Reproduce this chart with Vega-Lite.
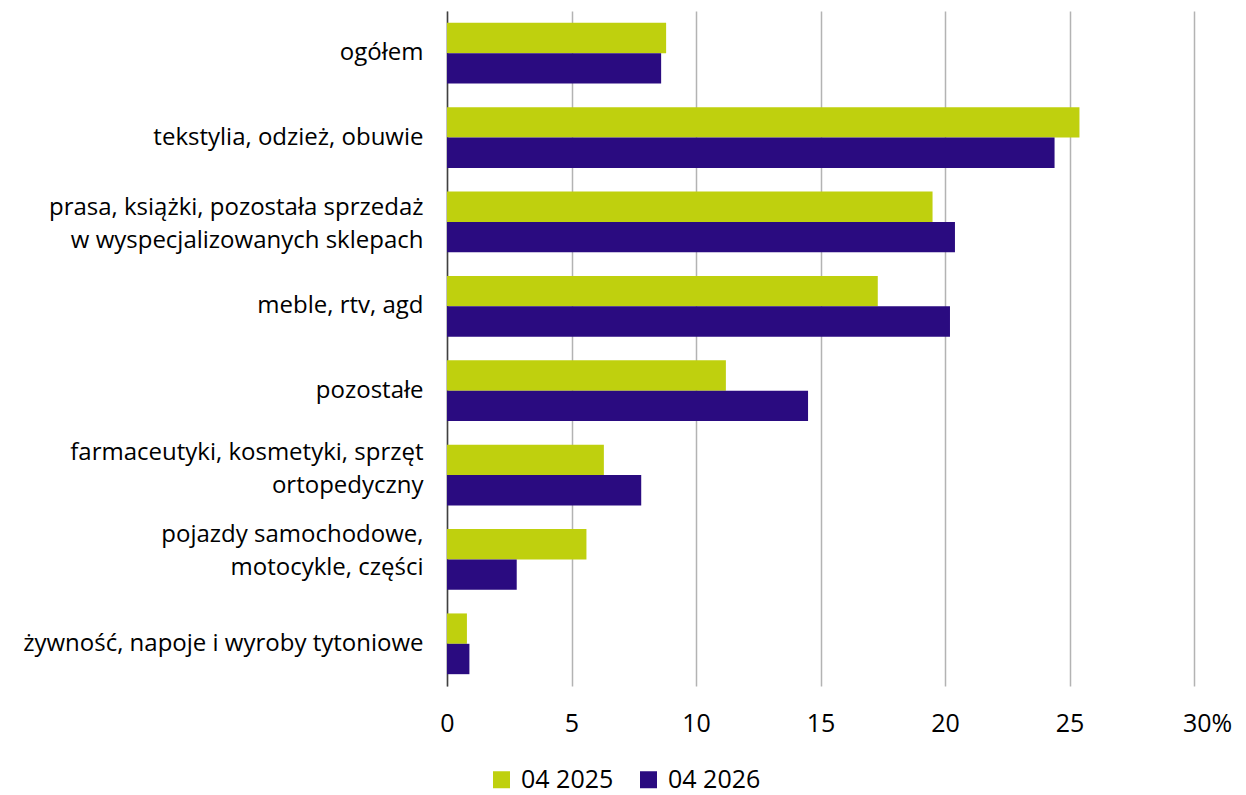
{
  "$schema": "https://vega.github.io/schema/vega-lite/v6.json",
  "width": 747,
  "height": 675,
  "autosize": {"type": "none"},
  "padding": {"left": 447, "top": 11, "right": 52, "bottom": 109},
  "background": "white",
  "data": {
    "values": [
      {"category": "ogółem\u00a0", "series": "04 2025", "value": 8.8},
      {"category": "ogółem\u00a0", "series": "04 2026", "value": 8.6},
      {"category": "tekstylia, odzież, obuwie", "series": "04 2025", "value": 25.4},
      {"category": "tekstylia, odzież, obuwie", "series": "04 2026", "value": 24.4},
      {"category": "prasa, książki, pozostała sprzedaż|w wyspecjalizowanych sklepach\u00a0", "series": "04 2025", "value": 19.5},
      {"category": "prasa, książki, pozostała sprzedaż|w wyspecjalizowanych sklepach\u00a0", "series": "04 2026", "value": 20.4},
      {"category": "meble, rtv, agd\u00a0", "series": "04 2025", "value": 17.3},
      {"category": "meble, rtv, agd\u00a0", "series": "04 2026", "value": 20.2},
      {"category": "pozostałe\u00a0", "series": "04 2025", "value": 11.2},
      {"category": "pozostałe\u00a0", "series": "04 2026", "value": 14.5},
      {"category": "farmaceutyki, kosmetyki, sprzęt|ortopedyczny", "series": "04 2025", "value": 6.3},
      {"category": "farmaceutyki, kosmetyki, sprzęt|ortopedyczny", "series": "04 2026", "value": 7.8},
      {"category": "pojazdy samochodowe,|motocykle, części", "series": "04 2025", "value": 5.6},
      {"category": "pojazdy samochodowe,|motocykle, części", "series": "04 2026", "value": 2.8},
      {"category": "żywność, napoje i wyroby tytoniowe", "series": "04 2025", "value": 0.8},
      {"category": "żywność, napoje i wyroby tytoniowe", "series": "04 2026", "value": 0.9}
    ]
  },
  "mark": {"type": "bar"},
  "encoding": {
    "y": {
      "field": "category",
      "type": "nominal",
      "sort": null,
      "scale": {"paddingInner": 0.28, "paddingOuter": 0.14},
      "axis": {
        "title": null,
        "labelExpr": "split(datum.label, '|')",
        "labelLineHeight": 33,
        "labelFont": "Open Sans",
        "labelFontSize": 24,
        "labelColor": "#000000",
        "labelPadding": 24,
        "labelLimit": 500,
        "labelOffset": {
          "condition": [
            {"test": "indexof(datum.label, 'prasa') >= 0", "value": -14},
            {"test": "indexof(datum.label, 'farmaceutyki') >= 0", "value": -22},
            {"test": "indexof(datum.label, 'pojazdy') >= 0", "value": -24}
          ],
          "value": 0
        },
        "ticks": false,
        "domainColor": "#404040",
        "domainWidth": 1.5,
        "grid": false
      }
    },
    "yOffset": {"field": "series", "type": "nominal", "sort": ["04 2025", "04 2026"]},
    "x": {
      "field": "value",
      "type": "quantitative",
      "scale": {"domain": [0, 30], "nice": false},
      "axis": {
        "title": null,
        "values": [0, 5, 10, 15, 20, 25, 30],
        "labelExpr": "datum.value == 30 ? '30%' : datum.label",
        "labelFlush": false,
        "labelOffset": {"condition": {"test": "datum.value == 30", "value": 13}, "value": 0},
        "labelFont": "Open Sans",
        "labelFontSize": 25,
        "labelColor": "#000000",
        "labelPadding": 25,
        "ticks": false,
        "domain": false,
        "grid": true,
        "gridColor": "#B3B3B3",
        "gridWidth": 1.5
      }
    },
    "color": {
      "field": "series",
      "type": "nominal",
      "sort": ["04 2025", "04 2026"],
      "scale": {"range": ["#BFD00E", "#2A0B80"]},
      "legend": {
        "title": null,
        "orient": "none",
        "direction": "horizontal",
        "legendX": 42,
        "legendY": 756,
        "symbolType": "square",
        "symbolSize": 289,
        "symbolStrokeWidth": 0,
        "labelFont": "Open Sans",
        "labelFontSize": 25,
        "labelColor": "#000000",
        "labelOffset": 7,
        "columnPadding": 22
      }
    }
  },
  "config": {"view": {"stroke": null}}
}
